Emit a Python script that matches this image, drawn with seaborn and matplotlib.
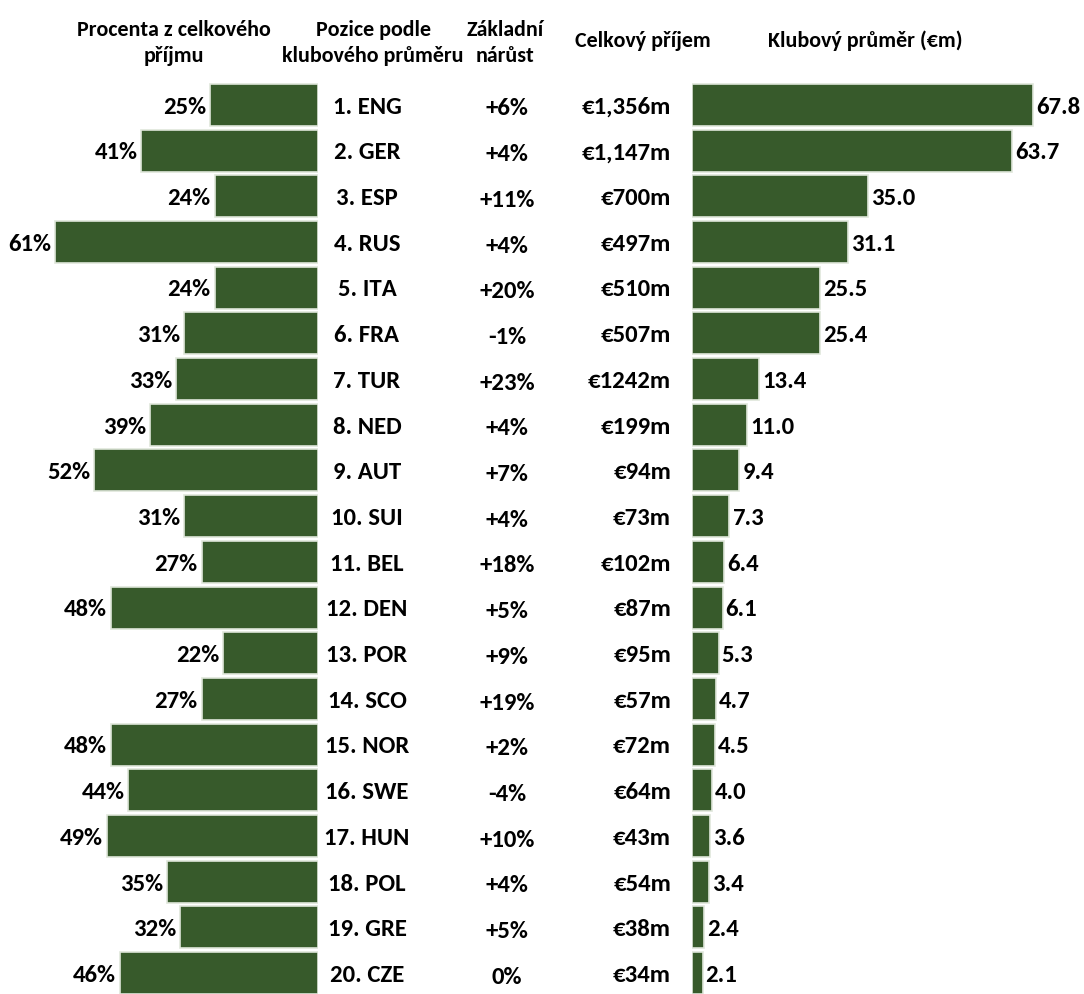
import matplotlib
matplotlib.use("Agg")
import matplotlib.pyplot as plt
import matplotlib.transforms as mtransforms
import seaborn as sns
import pandas as pd

# League data, ordered by club average revenue
positions = ["1. ENG", "2. GER", "3. ESP", "4. RUS", "5. ITA", "6. FRA", "7. TUR",
             "8. NED", "9. AUT", "10. SUI", "11. BEL", "12. DEN", "13. POR", "14. SCO",
             "15. NOR", "16. SWE", "17. HUN", "18. POL", "19. GRE", "20. CZE"]
share_pct = [25, 41, 24, 61, 24, 31, 33, 39, 52, 31, 27, 48, 22, 27, 48, 44, 49, 35, 32, 46]
growth = ["+6%", "+4%", "+11%", "+4%", "+20%", "-1%", "+23%", "+4%", "+7%", "+4%",
          "+18%", "+5%", "+9%", "+19%", "+2%", "-4%", "+10%", "+4%", "+5%", "0%"]
total_revenue = ["€1,356m", "€1,147m", "€700m", "€497m", "€510m", "€507m", "€1242m",
                 "€199m", "€94m", "€73m", "€102m", "€87m", "€95m", "€57m", "€72m",
                 "€64m", "€43m", "€54m", "€38m", "€34m"]
club_avg = [67.8, 63.7, 35.0, 31.1, 25.5, 25.4, 13.4, 11.0, 9.4, 7.3,
            6.4, 6.1, 5.3, 4.7, 4.5, 4.0, 3.6, 3.4, 2.4, 2.1]

df = pd.DataFrame({"pos": positions, "share": share_pct, "avg": club_avg})

sns.set_theme(style="white")
plt.rcParams["font.family"] = ["Carlito", "DejaVu Sans"]
plt.rcParams["font.weight"] = "bold"

GREEN = "#375a2b"
EDGE = "#dfe6da"
FS = 17.8
FS_HDR = 15.8
W, H = 1084, 994

fig = plt.figure(figsize=(W / 100, H / 100), dpi=100)

row_top = 82
row_bot = 996
ax_l = fig.add_axes([0, (H - row_bot) / H, 318 / W, (row_bot - row_top) / H])
ax_r = fig.add_axes([692 / W, (H - row_bot) / H, (W - 692) / W, (row_bot - row_top) / H])

sns.barplot(data=df, x="share", y="pos", ax=ax_l, color=GREEN, width=0.92,
            edgecolor=EDGE, linewidth=1.2, saturation=1)
sns.barplot(data=df, x="avg", y="pos", ax=ax_r, color=GREEN, width=0.92,
            edgecolor=EDGE, linewidth=1.2, saturation=1)

ax_l.set_xlim(318 / 4.31, 0)
ax_r.set_xlim(0, (W - 692) / 5.03)
for ax in (ax_l, ax_r):
    ax.set_ylim(len(positions) - 0.5, -0.5)
    ax.set_axis_off()

# Value labels next to bars
for i, v in enumerate(share_pct):
    ax_l.text(v + 0.9, i + 0.05, f"{v}%", ha="right", va="center", fontsize=FS,
              fontweight="bold", color="black")
for i, v in enumerate(club_avg):
    ax_r.text(v + 0.6, i + 0.05, f"{v:.1f}", ha="left", va="center", fontsize=FS,
              fontweight="bold", color="black")

# Middle text columns aligned with the bar rows
tr = mtransforms.blended_transform_factory(fig.transFigure, ax_l.transData)
for i in range(len(positions)):
    fig.text(367 / W, i + 0.05, positions[i], transform=tr, ha="center", va="center",
             fontsize=FS, fontweight="bold", color="black")
    fig.text(507 / W, i + 0.09, growth[i], transform=tr, ha="center", va="center",
             fontsize=FS, fontweight="bold", color="black")
    fig.text(671 / W, i + 0.05, total_revenue[i], transform=tr, ha="right", va="center",
             fontsize=FS, fontweight="bold", color="black")

# Column headers
hdr = dict(fontsize=FS_HDR, fontweight="bold", color="black", ha="center",
           va="center", linespacing=1.4)
fig.text(174 / W, 1 - 43 / H, "Procenta z celkového\npříjmu", **hdr)
fig.text(373 / W, 1 - 43 / H, "Pozice podle\nklubového průměru", **hdr)
fig.text(505 / W, 1 - 43 / H, "Základní\nnárůst", **hdr)
fig.text(643 / W, 1 - 41 / H, "Celkový příjem", **hdr)
fig.text(865 / W, 1 - 41 / H, "Klubový průměr (€m)", **hdr)

fig.savefig("out.png", dpi=100, facecolor="white")
